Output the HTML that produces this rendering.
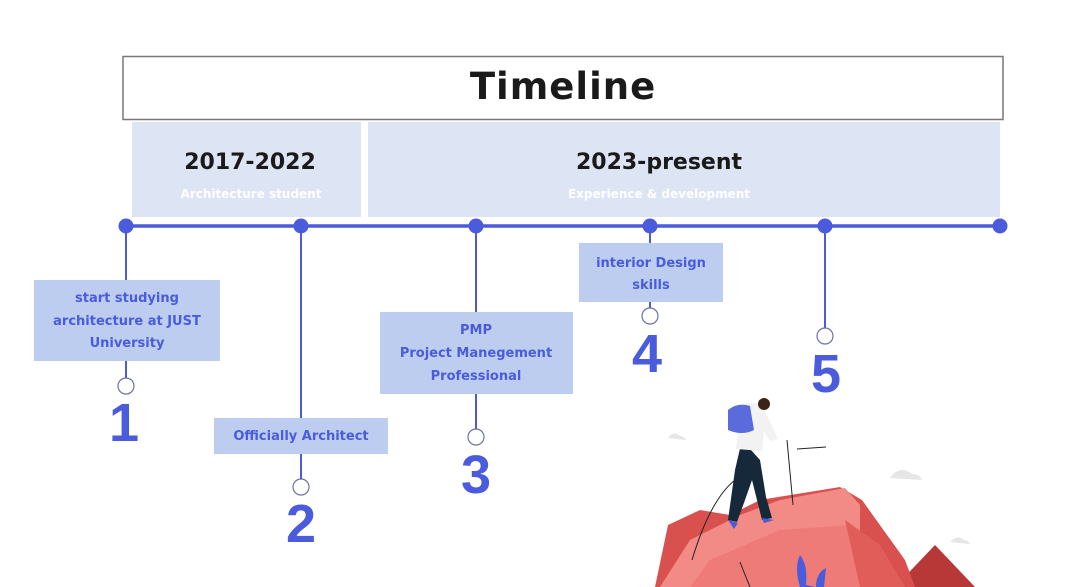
<!DOCTYPE html>
<html><head><meta charset="utf-8"><style>
html,body{margin:0;padding:0;background:#fff;}
svg{display:block;}
.b{font-family:"DejaVu Sans","Liberation Sans",sans-serif;font-weight:bold;}
</style></head><body>
<svg width="1068" height="587" viewBox="0 0 1068 587" xmlns="http://www.w3.org/2000/svg">
<rect x="123" y="56.5" width="880" height="63" fill="#fff" stroke="#777" stroke-width="1.5"/>
<text x="563" y="99" text-anchor="middle" class="b" font-size="37" fill="#1a1a1a" font-weight="900" style="letter-spacing:1px">Timeline</text>
<rect x="132" y="122" width="229" height="95" fill="#dde4f3"/>
<rect x="368" y="122" width="632" height="95" fill="#dde4f3"/>
<text x="250" y="169" text-anchor="middle" class="b" font-size="22" fill="#1a1a1a">2017-2022</text>
<text x="251" y="198" text-anchor="middle" class="b" font-size="12" fill="#fff">Architecture student</text>
<text x="659" y="169" text-anchor="middle" class="b" font-size="22" fill="#1a1a1a">2023-present</text>
<text x="659" y="198" text-anchor="middle" class="b" font-size="12" fill="#fff">Experience &amp; development</text>
<g stroke="#4a5bdc" stroke-width="2">
<line x1="126" y1="226" x2="1000" y2="226" stroke-width="3.5"/>
<line x1="126" y1="226" x2="126" y2="378"/>
<line x1="301" y1="226" x2="301" y2="479"/>
<line x1="476" y1="226" x2="476" y2="429"/>
<line x1="650" y1="226" x2="650" y2="308"/>
<line x1="825" y1="226" x2="825" y2="328"/>
</g>
<g fill="#4a5bdc">
<circle cx="126" cy="226" r="7.5"/><circle cx="301" cy="226" r="7.5"/><circle cx="476" cy="226" r="7.5"/>
<circle cx="650" cy="226" r="7.5"/><circle cx="825" cy="226" r="7.5"/><circle cx="1000" cy="226" r="7.5"/>
</g>
<g fill="#fff" stroke="#6a6fa8" stroke-width="1.2">
<circle cx="126" cy="386" r="8"/><circle cx="301" cy="487" r="8"/><circle cx="476" cy="437" r="8"/>
<circle cx="650" cy="316" r="8"/><circle cx="825" cy="336" r="8"/>
</g>
<g fill="#bccdef">
<rect x="34" y="280" width="186" height="81"/>
<rect x="214" y="418" width="174" height="36"/>
<rect x="380" y="312" width="193" height="82"/>
<rect x="579" y="243" width="144" height="59"/>
</g>
<g class="b" font-size="13" fill="#4a5bdc" text-anchor="middle">
<text x="127" y="302">start studying</text>
<text x="127" y="325">architecture at JUST</text>
<text x="127" y="347">University</text>
<text x="301" y="440">Officially Architect</text>
<text x="476" y="334">PMP</text>
<text x="476" y="357">Project Manegement</text>
<text x="476" y="380">Professional</text>
<text x="651" y="267">interior Design</text>
<text x="651" y="289">skills</text>
</g>
<g font-family="Liberation Sans,sans-serif" font-weight="bold" font-size="54" fill="#4a5bdc" text-anchor="middle">
<text x="124" y="441">1</text>
<text x="301" y="542">2</text>
<text x="476" y="493">3</text>
<text x="647" y="372">4</text>
<text x="826" y="392">5</text>
</g>
<g>
<path d="M668 438 q6-8 12-2 q4 0 6 4z" fill="#e6e6e6"/>
<path d="M890 478 q10-14 22-4 q8 0 10 6z" fill="#e6e6e6"/>
<path d="M950 542 q8-8 14-2 q4 0 6 4z" fill="#e6e6e6"/>
<path d="M895 587 L935 545 L975 587z" fill="#b83838"/>
<path d="M655 587 L668 525 L700 510 L730 515 L760 500 L840 487 L862 500 L905 560 L915 587z" fill="#d9514f"/>
<path d="M660 587 L690 540 L740 515 L780 500 L845 488 L860 505 L860 535 L905 587z" fill="#f28a86"/>
<path d="M710 560 L780 530 L850 525 L880 560 L870 587 L690 587z" fill="#ee7b78"/>
<path d="M845 520 L880 545 L905 587 L860 587z" fill="#e05d5a"/>
<path d="M800 555 q8 10 6 30 L815 587 L800 587 q-6-20 0-32z" fill="#4a5bdc"/>
<path d="M826 568 q-10 5-10 19 h8z" fill="#4a5bdc"/>
<path d="M742 440 L760 460 L766 497 L772 518 L762 520 L752 480 L745 500 L737 522 L728 520 L735 470z" fill="#15293a"/>
<path d="M742 405 q15-6 22 4 l14 30 l-8 2 l-6-10 l-2 20 l-26 -2 z" fill="#f2f2f2"/>
<circle cx="764" cy="404" r="6" fill="#3a2418"/>
<path d="M728 410 q10-8 22-4 l4 24 q-12 6-26 0z" fill="#5a6bdc"/>
<path d="M728 520 l10 3 l-4 6z M762 518 l12 2 l-10 3z" fill="#4a5bdc"/>
<g stroke="#222" stroke-width="1" fill="none">
<path d="M787 440 L793 505"/><path d="M797 449 L826 447"/>
<path d="M692 560 Q710 500 735 480"/><path d="M740 562 Q745 575 750 587"/>
</g>
</g>
</svg>
</body></html>
